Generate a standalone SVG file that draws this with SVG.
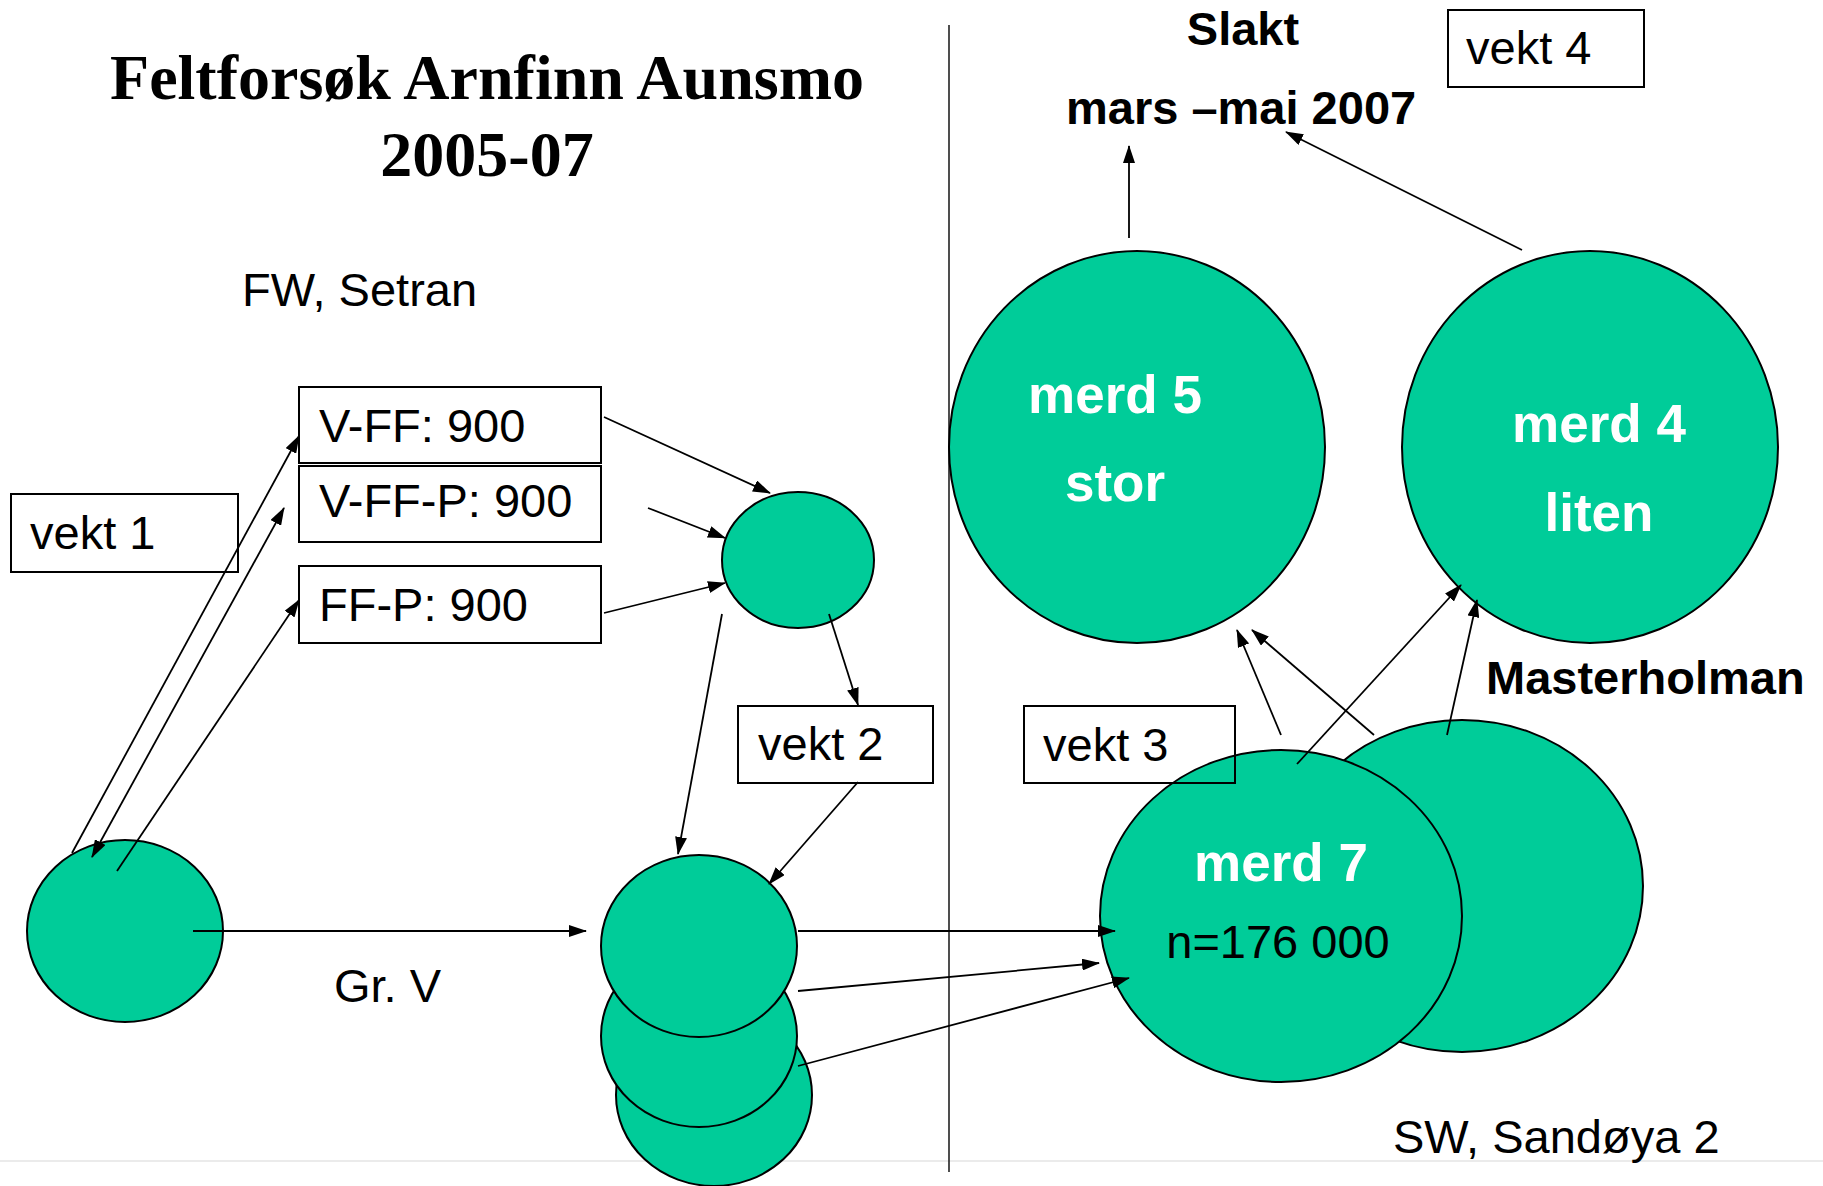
<svg xmlns="http://www.w3.org/2000/svg" width="1823" height="1186" viewBox="0 0 1823 1186">
<style>
.t{font-family:"Liberation Sans",Arial,sans-serif;font-size:47px;fill:#000}
.b{font-weight:bold}
.w{font-family:"Liberation Sans",Arial,sans-serif;font-size:53px;font-weight:bold;fill:#fff;text-anchor:middle}
.title{font-family:"Liberation Serif","Times New Roman",serif;font-size:64px;font-weight:bold;text-anchor:middle}
.n{fill:#00CC99;stroke:#000;stroke-width:2}
.box{fill:none;stroke:#000;stroke-width:2}
.c{stroke:#000;stroke-width:1.8;fill:none;marker-end:url(#ah)}
</style>
<defs>
<marker id="ah" viewBox="0 0 18 12" refX="17" refY="6" markerWidth="18" markerHeight="12" markerUnits="userSpaceOnUse" orient="auto-start-reverse">
<path d="M0,0 L18,6 L0,12 z" fill="#000"/>
</marker>
</defs>
<rect width="1823" height="1186" fill="#fff"/>
<line x1="0" y1="1161" x2="1823" y2="1161" stroke="#ebebeb" stroke-width="2"/>
<line id="divider" x1="949" y1="25" x2="949" y2="1172" stroke="#222" stroke-width="1.6"/>

<g id="title">
<text class="title" x="487" y="99">Feltforsøk Arnfinn Aunsmo</text>
<text class="title" x="487" y="176">2005-07</text>
</g>
<text class="t" x="242" y="306">FW, Setran</text>
<text class="t" x="334" y="1002">Gr. V</text>
<text class="t b" x="1243" y="45" text-anchor="middle">Slakt</text>
<text class="t b" x="1066" y="124">mars –mai 2007</text>
<text class="t b" x="1486" y="694">Masterholman</text>
<text class="t" x="1393" y="1153">SW, Sandøya 2</text>

<g id="n-left"><ellipse class="n" cx="125" cy="931" rx="98" ry="91"/></g>
<g id="n-upper"><ellipse class="n" cx="798" cy="560" rx="76" ry="68"/></g>
<g id="n-stack3"><ellipse class="n" cx="714" cy="1095" rx="98" ry="91"/></g>
<g id="n-stack2"><ellipse class="n" cx="699" cy="1036" rx="98" ry="91"/></g>
<g id="n-stack1"><ellipse class="n" cx="699" cy="946" rx="98" ry="91"/></g>

<g id="n-merd5"><ellipse class="n" cx="1137" cy="447" rx="188" ry="196"/>
<text class="w" x="1115" y="413">merd 5</text><text class="w" x="1115" y="501">stor</text></g>
<g id="n-merd4"><ellipse class="n" cx="1590" cy="447" rx="188" ry="196"/>
<text class="w" x="1599" y="442">merd 4</text><text class="w" x="1599" y="531">liten</text></g>
<g id="n-rear"><ellipse class="n" cx="1462" cy="886" rx="181" ry="166"/></g>
<g id="n-merd7"><ellipse class="n" cx="1281" cy="916" rx="181" ry="166"/>
<text class="w" x="1281" y="881">merd 7</text>
<text class="t" x="1278" y="958" text-anchor="middle">n=176 000</text></g>

<g id="b-vff"><rect class="box" x="299" y="387" width="302" height="76"/><text class="t" x="319" y="442">V-FF: 900</text></g>
<g id="b-vffp"><rect class="box" x="299" y="466" width="302" height="76"/><text class="t" x="319" y="517">V-FF-P: 900</text></g>
<g id="b-ffp"><rect class="box" x="299" y="566" width="302" height="77"/><text class="t" x="319" y="621">FF-P: 900</text></g>
<g id="b-vekt1"><rect class="box" x="11" y="494" width="227" height="78"/><text class="t" x="30" y="549">vekt 1</text></g>
<g id="b-vekt2"><rect class="box" x="738" y="706" width="195" height="77"/><text class="t" x="758" y="760">vekt 2</text></g>
<g id="b-vekt3"><rect class="box" x="1024" y="706" width="211" height="77"/><text class="t" x="1043" y="761">vekt 3</text></g>
<g id="b-vekt4"><rect class="box" x="1448" y="10" width="196" height="77"/><text class="t" x="1466" y="64">vekt 4</text></g>

<g id="connectors">
<line class="c" x1="72" y1="853" x2="299" y2="436"/>
<line class="c" x1="92" y1="857" x2="284" y2="508" style="marker-start:url(#ah)"/>
<line class="c" x1="117" y1="871" x2="299" y2="600"/>
<line class="c" x1="604" y1="417" x2="770" y2="493"/>
<line class="c" x1="648" y1="508" x2="725" y2="538"/>
<line class="c" x1="604" y1="613" x2="725" y2="583"/>
<line class="c" x1="722" y1="614" x2="678" y2="854"/>
<line class="c" x1="829" y1="614" x2="858" y2="705"/>
<line class="c" x1="858" y1="782" x2="769" y2="884"/>
<line class="c" x1="193" y1="931" x2="586" y2="931"/>
<line class="c" x1="798" y1="931" x2="1115" y2="931"/>
<line class="c" x1="798" y1="991" x2="1099" y2="963"/>
<line class="c" x1="798" y1="1066" x2="1129" y2="978"/>
<line class="c" x1="1281" y1="735" x2="1237" y2="630"/>
<line class="c" x1="1374" y1="735" x2="1252" y2="630"/>
<line class="c" x1="1297" y1="764" x2="1461" y2="585"/>
<line class="c" x1="1447" y1="735" x2="1477" y2="600"/>
<line class="c" x1="1129" y1="238" x2="1129" y2="146"/>
<line class="c" x1="1522" y1="250" x2="1286" y2="132"/>
</g>
</svg>
